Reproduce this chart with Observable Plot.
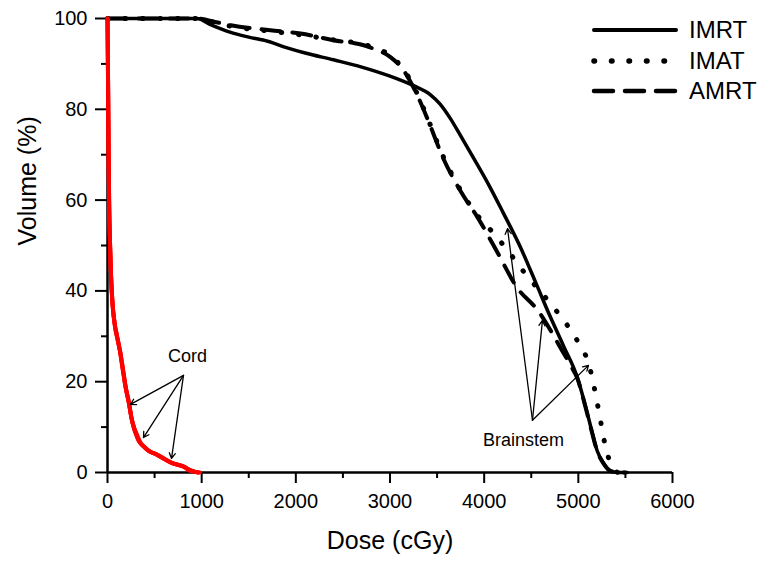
<!DOCTYPE html>
<html>
<head>
<meta charset="utf-8">
<script src="https://cdn.jsdelivr.net/npm/d3@7"></script>
<script src="https://cdn.jsdelivr.net/npm/@observablehq/plot@0.6"></script>
<style>
  html, body { margin: 0; padding: 0; background: #fff; }
  #wrap { position: relative; width: 774px; height: 562px; font-family: "Liberation Sans", Arial, sans-serif; }
  #legend { position: absolute; left: 590px; top: 15px; }
  .row { display: flex; align-items: center; height: 30.5px; }
  .row span { font-size: 24px; margin-left: 9px; color: #000; }
</style>
</head>
<body>
<div id="wrap"></div>
<script>
// ---- Brainstem DVH (dose in cGy, volume in %) ----
const imrtDose = [0, 950, 1100, 1300, 1500, 1700, 1900, 2100, 2400, 2700, 3000, 3250, 3430, 3530, 3640, 3760, 3900, 4050, 4200, 4390, 4550, 4700, 4840, 4990, 5080, 5150, 5200, 5270, 5340, 5420, 5520];
const imrtVol  = [100, 100, 98.6, 97.0, 95.9, 95.0, 93.6, 92.4, 90.9, 89.3, 87.3, 85.2, 83.2, 81.2, 78.0, 73.8, 68.8, 63.3, 57.3, 49.4, 41.7, 34.4, 28.0, 20.9, 14.3, 8.6, 4.8, 2.0, 0.4, 0, 0];

const imatDose = [0, 950, 1130, 1310, 1730, 2050, 2400, 2740, 2830, 3005, 3143, 3292, 3400, 3570, 3760, 3930, 4090, 4250, 4410, 4740, 4900, 5020, 5110, 5160, 5200, 5235, 5270, 5320, 5370, 5420];
const imatVol  = [100, 100, 99.2, 98.3, 97.2, 96.4, 95.3, 94.2, 93.6, 91.8, 88.8, 83.3, 78.0, 69.4, 61.8, 56.6, 52.9, 48.9, 44.5, 36.3, 31.9, 27.9, 24.0, 19.6, 15.4, 11.5, 7.5, 3.3, 0.8, 0];

const amrtDose = [0, 950, 1130, 1310, 1730, 2050, 2400, 2740, 2830, 3005, 3143, 3292, 3400, 3570, 3760, 3930, 4140, 4350, 4570, 4810, 4920, 4990, 5080, 5150, 5200, 5270, 5340, 5420, 5500];
const amrtVol  = [100, 100, 99.3, 98.5, 97.4, 96.7, 95.2, 94.0, 93.3, 91.5, 88.6, 83.0, 77.8, 69.0, 61.6, 56.2, 48.5, 40.7, 35.7, 27.5, 23.5, 20.7, 14.1, 8.4, 4.7, 1.9, 0.3, 0, 0];

// ---- Cord DVH ----
const cordImrtDose = [0, 4, 8, 12, 16, 25, 35, 50, 75, 103, 130, 159, 190, 223, 250, 276, 300, 329, 380, 435, 500, 584, 640, 690, 750, 796, 830, 860, 920, 966];
const cordImrtVol  = [100, 90, 80, 70, 60, 52, 45, 38, 33, 30, 27, 23, 19, 16, 12.5, 10, 8.5, 7, 5.8, 4.8, 4.2, 3.3, 2.6, 2.0, 1.7, 1.4, 1.0, 0.5, 0.2, 0];
const cordImatDose = [0, 5, 9, 13, 18, 27, 38, 55, 80, 110, 140, 170, 200, 230, 260, 290, 320, 350, 400, 450, 520, 600, 660, 710, 770, 820, 870, 930, 980];
const cordImatVol  = [100, 89, 78, 68, 58, 50, 43, 37, 32, 29, 26, 22, 18, 15, 11.5, 9.5, 8, 6.6, 5.5, 4.6, 4.0, 3.0, 2.3, 1.9, 1.6, 1.2, 0.6, 0.2, 0];
const cordAmrtDose = [0, 4, 8, 12, 17, 26, 36, 52, 78, 105, 135, 165, 195, 225, 255, 282, 310, 340, 390, 440, 510, 590, 650, 700, 760, 810, 850, 900, 960];
const cordAmrtVol  = [100, 91, 81, 71, 61, 51, 44, 37.5, 32.5, 29.5, 26.5, 22.5, 18.5, 15.5, 12, 9.8, 8.2, 6.8, 5.6, 4.7, 4.1, 3.1, 2.5, 2.0, 1.6, 1.3, 0.8, 0.3, 0];

// ---- Axes ----
const xTicks = [0, 1000, 2000, 3000, 4000, 5000, 6000];
const xMinor = [500, 1500, 2500, 3500, 4500, 5500];
const yTicks = [0, 20, 40, 60, 80, 100];
const yMinor = [10, 30, 50, 70, 90];

// ---- Annotations (dose, volume) ----
const cordLabel = {text: "Cord", dose: 850, vol: 25.5};
const cordFrom = [807, 21.4];
const cordTo = [[244, 15.0], [382, 7.7], [680, 3.1]];
const brainLabel = {text: "Brainstem", dose: 4418, vol: 7.2};
const brainFrom = [4513, 11.5];
const brainTo = [[4248, 53.7], [4619, 33.5], [5108, 23.6]];

// ---- Legend ----
const seriesNames = ["IMRT", "IMAT", "AMRT"];
const seriesDash = [null, "0.5 17", "19 12"];
const seriesWidth = [4, 5.5, 4.5];

const zip = (xs, ys) => xs.map((x, i) => ({dose: x, vol: ys[i]}));
const imrt = zip(imrtDose, imrtVol);
const imat = zip(imatDose, imatVol);
const amrt = zip(amrtDose, amrtVol);
const cords = [zip(cordImrtDose, cordImrtVol), zip(cordImatDose, cordImatVol), zip(cordAmrtDose, cordAmrtVol)];
const arrows = [
  ...cordTo.map(t => ({x1: cordFrom[0], y1: cordFrom[1], x2: t[0], y2: t[1]})),
  ...brainTo.map(t => ({x1: brainFrom[0], y1: brainFrom[1], x2: t[0], y2: t[1]}))
];

const font = "Liberation Sans, Arial, sans-serif";

const chart = Plot.plot({
  width: 774,
  height: 562,
  marginLeft: 107,
  marginRight: 102,
  marginTop: 18,
  marginBottom: 90,
  style: {fontFamily: font, background: "white", color: "black"},
  x: {domain: [0, 6000]},
  y: {domain: [0, 100]},
  marks: [
    Plot.axisX(xTicks, {tickSize: 11, tickPadding: 10, fontSize: 20, strokeWidth: 2, label: null, tickFormat: d => String(d)}),
    Plot.axisX(xMinor, {tickSize: 6, strokeWidth: 2, label: null, tickFormat: () => ""}),
    Plot.axisY(yTicks, {tickSize: 12, tickPadding: 8, fontSize: 20, strokeWidth: 2, label: null}),
    Plot.axisY(yMinor, {tickSize: 6, strokeWidth: 2, label: null, tickFormat: () => ""}),
    Plot.ruleY([0], {strokeWidth: 2.5}),
    Plot.ruleX([0], {strokeWidth: 2.5}),
    Plot.line(imrt, {x: "dose", y: "vol", stroke: "black", strokeWidth: 3.5, curve: "monotone-x"}),
    Plot.line(imat, {x: "dose", y: "vol", stroke: "black", strokeWidth: 5, strokeDasharray: "0.5 17", strokeLinecap: "round", curve: "monotone-x"}),
    Plot.line(amrt, {x: "dose", y: "vol", stroke: "black", strokeWidth: 4, strokeDasharray: "19 12", curve: "monotone-x"}),
    ...cords.map(c => Plot.line(c, {x: "dose", y: "vol", stroke: "#ff0000", strokeWidth: 4, curve: "monotone-x"})),
    Plot.arrow(arrows, {x1: "x1", y1: "y1", x2: "x2", y2: "y2", stroke: "black", strokeWidth: 1.3, headLength: 7}),
    Plot.text([cordLabel], {x: "dose", y: "vol", text: "text", fontSize: 18, fill: "black"}),
    Plot.text([brainLabel], {x: "dose", y: "vol", text: "text", fontSize: 18, fill: "black"}),
    Plot.text(["Dose (cGy)"], {frameAnchor: "bottom", dy: 76, text: d => d, fontSize: 25, fill: "black"}),
    Plot.text(["Volume (%)"], {frameAnchor: "left", dx: -80, rotate: -90, text: d => d, fontSize: 25, fill: "black"})
  ]
});

const wrap = document.getElementById("wrap");
wrap.appendChild(chart);

const legend = document.createElement("div");
legend.id = "legend";
seriesNames.forEach((name, i) => {
  const row = document.createElement("div");
  row.className = "row";
  const ns = "http://www.w3.org/2000/svg";
  const svg = document.createElementNS(ns, "svg");
  svg.setAttribute("width", "90");
  svg.setAttribute("height", "12");
  const line = document.createElementNS(ns, "line");
  line.setAttribute("x1", "4"); line.setAttribute("x2", "86");
  line.setAttribute("y1", "6"); line.setAttribute("y2", "6");
  line.setAttribute("stroke", "black");
  line.setAttribute("stroke-width", seriesWidth[i]);
  if (seriesDash[i]) line.setAttribute("stroke-dasharray", seriesDash[i]);
  line.setAttribute("stroke-linecap", "round");
  svg.appendChild(line);
  const label = document.createElement("span");
  label.textContent = name;
  row.appendChild(svg);
  row.appendChild(label);
  legend.appendChild(row);
});
wrap.appendChild(legend);
</script>
</body>
</html>
